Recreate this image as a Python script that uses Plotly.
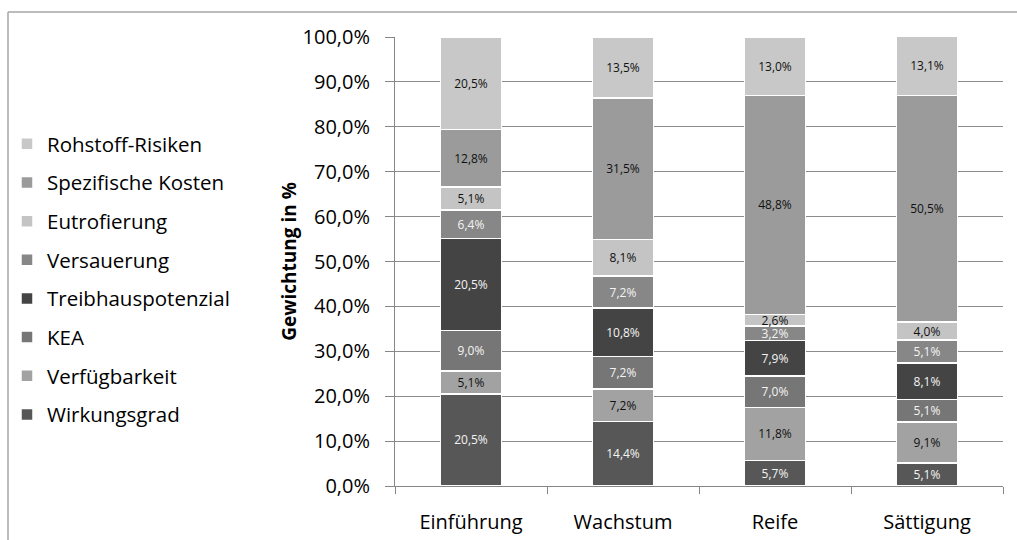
import plotly.graph_objects as go

# Lebenszyklusphasen
phasen = ["Einführung", "Wachstum", "Reife", "Sättigung"]

# Gewichtung der Kriterien je Phase (in %)
wirkungsgrad = [20.5, 14.4, 5.7, 5.1]
verfuegbarkeit = [5.1, 7.2, 11.8, 9.1]
kea = [9.0, 7.2, 7.0, 5.1]
treibhauspotenzial = [20.5, 10.8, 7.9, 8.1]
versauerung = [6.4, 7.2, 3.2, 5.1]
eutrofierung = [5.1, 8.1, 2.6, 4.0]
spezifische_kosten = [12.8, 31.5, 48.8, 50.5]
rohstoff_risiken = [20.5, 13.5, 13.0, 13.1]

kriterien = [
    ("Wirkungsgrad", wirkungsgrad, "#575757", "#f4f4f4"),
    ("Verfügbarkeit", verfuegbarkeit, "#a2a2a2", "#111111"),
    ("KEA", kea, "#767676", "#f4f4f4"),
    ("Treibhauspotenzial", treibhauspotenzial, "#444444", "#f4f4f4"),
    ("Versauerung", versauerung, "#878787", "#f4f4f4"),
    ("Eutrofierung", eutrofierung, "#c4c4c4", "#111111"),
    ("Spezifische Kosten", spezifische_kosten, "#9b9b9b", "#111111"),
    ("Rohstoff-Risiken", rohstoff_risiken, "#c8c8c8", "#111111"),
]

FONT = "Open Sans"
L, R, T, B = 395, 14, 37, 54
W, H = 1017, 540
plot_w, plot_h = W - L - R, H - T - B

fig = go.Figure()
n = len(kriterien)
for i, (name, werte, farbe, textfarbe) in enumerate(kriterien):
    fig.add_trace(go.Bar(
        name=name,
        x=phasen,
        y=werte,
        legendgroup=name,
        legendrank=n - i,
        marker=dict(color=farbe, line=dict(color="white", width=1.5)),
        texttemplate="%{y:.1f}%",
        textposition="inside",
        insidetextanchor="middle",
        textangle=0,
        textfont=dict(family=FONT, size=12, color=textfarbe),
    ))

fig.update_layout(
    barmode="stack",
    bargap=0.6,
    separators=",.",
    width=W,
    height=H,
    margin=dict(l=L, r=R, t=T, b=B),
    paper_bgcolor="white",
    plot_bgcolor="white",
    font=dict(family=FONT, size=20, color="#000000"),
    uniformtext=dict(minsize=12, mode="show"),
    showlegend=True,
    legend=dict(
        traceorder="grouped",
        xref="container", yref="container",
        x=7 / W, y=1 - 124 / H, xanchor="left", yanchor="top",
        font=dict(family=FONT, size=20.5, color="#000000"),
        tracegroupgap=9,
        maxheight=480,
        bgcolor="rgba(0,0,0,0)",
    ),
    xaxis=dict(
        type="category",
        showline=True, linecolor="#868686", linewidth=1,
        ticks="outside", tickson="boundaries", ticklen=7, tickcolor="#868686",
        ticklabelstandoff=18,
        showgrid=False,
        tickfont=dict(family=FONT, size=20),
        automargin=False,
    ),
    yaxis=dict(
        range=[0, 100],
        dtick=10,
        tickformat=".1f",
        ticksuffix="%",
        showline=True, linecolor="#868686", linewidth=1,
        ticks="outside", ticklen=9, tickcolor="#868686",
        ticklabelstandoff=11,
        showgrid=True, gridcolor="#8c8c8c", gridwidth=1,
        zeroline=False,
        tickfont=dict(family=FONT, size=20),
        title=dict(text="<b>Gewichtung in %</b>", font=dict(family=FONT, size=19), standoff=0),
        automargin=False,
    ),
    shapes=[
        # Rahmen des Diagrammbereichs (links und oben)
        dict(type="line", xref="paper", yref="paper",
             x0=(8 - L) / plot_w, x1=(8 - L) / plot_w, y0=1 + (T - 12) / plot_h, y1=-0.2,
             line=dict(color="#a6a6a6", width=1.5)),
        dict(type="line", xref="paper", yref="paper",
             x0=(8 - L) / plot_w, x1=1.1, y0=1 + (T - 12) / plot_h, y1=1 + (T - 12) / plot_h,
             line=dict(color="#a6a6a6", width=1.5)),
    ],
)

fig.write_html("out.html")
